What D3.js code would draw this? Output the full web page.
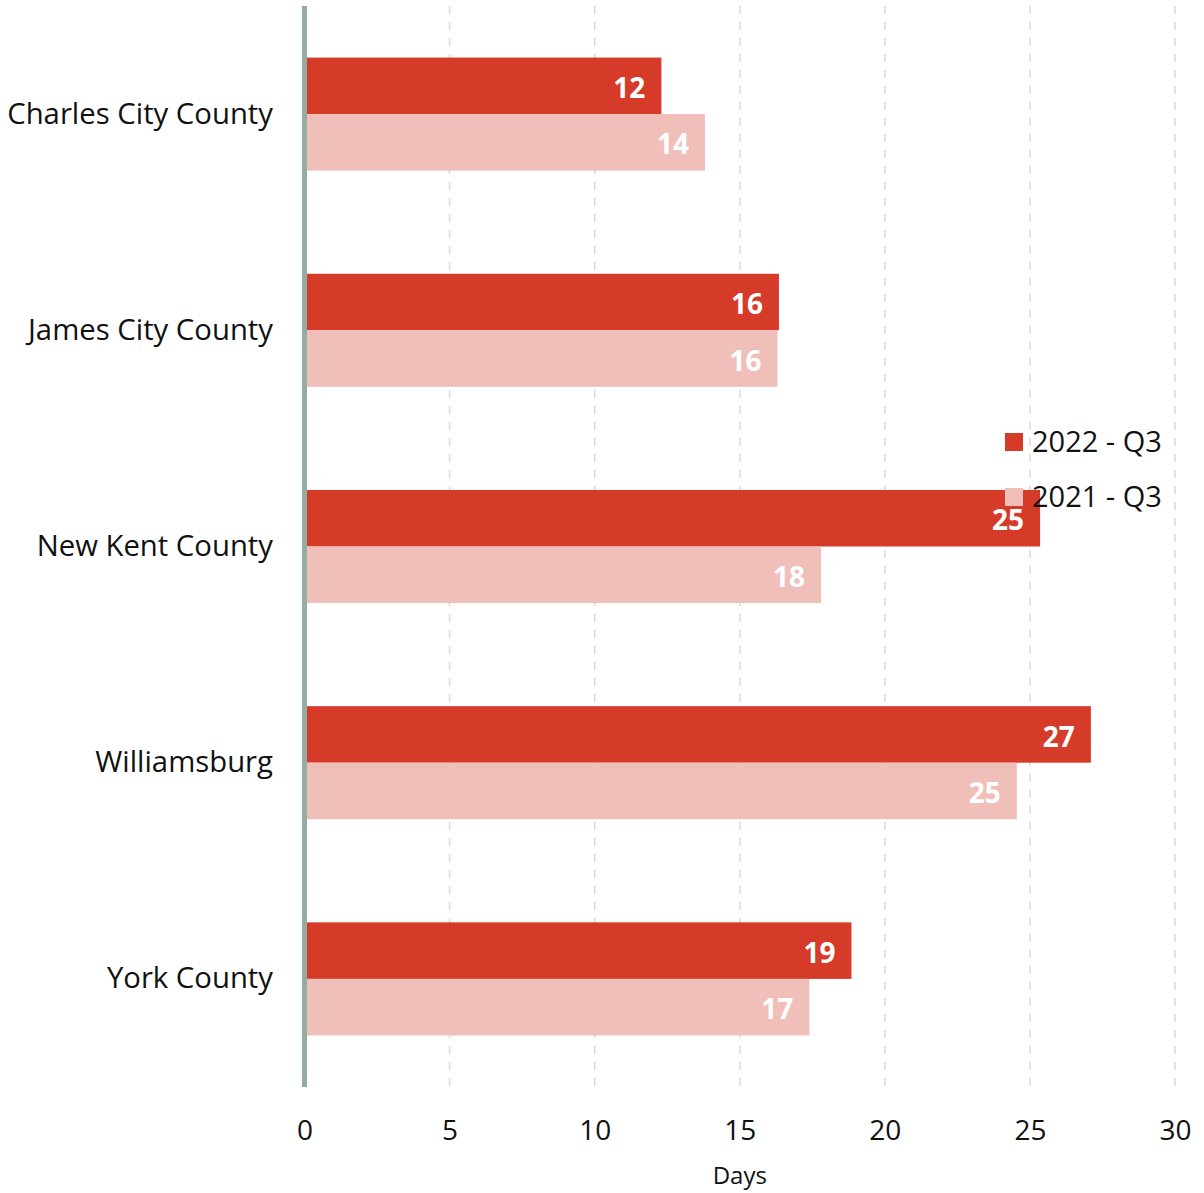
<!DOCTYPE html>
<html>
<head>
<meta charset="utf-8">
<script src="https://cdn.jsdelivr.net/npm/d3@7"></script>
<style>
  body { margin: 0; background: #fff; }
  svg text { font-family: "Open Sans", sans-serif; }
</style>
</head>
<body>
<svg id="chart" width="1204" height="1193"></svg>
<script>
var counties = ["Charles City County", "James City County", "New Kent County", "Williamsburg", "York County"];
var series = ["2022 - Q3", "2021 - Q3"];
var days2022 = [12.3, 16.35, 25.35, 27.1, 18.85];
var days2021 = [13.8, 16.3, 17.8, 24.55, 17.4];
var xTicks = [0, 5, 10, 15, 20, 25, 30];
var colors = ["#d63a29", "#f0bfb9"];

var svg = d3.select("#chart");

var x = d3.scaleLinear().domain([0, 30]).range([304.5, 1175]);
var y = d3.scaleBand().domain(counties).range([6, 1087]).paddingInner(0.477).paddingOuter(0.2385);
var ySub = d3.scaleBand().domain(series).range([0, y.bandwidth()]);

var rows = counties.map(function(c, i) {
  return { county: c, values: [days2022[i], days2021[i]] };
});

// dashed grid
svg.append("g")
  .selectAll("line")
  .data(xTicks.filter(function(t) { return t > 0; }))
  .join("line")
    .attr("x1", function(d) { return x(d); })
    .attr("x2", function(d) { return x(d); })
    .attr("y1", 6)
    .attr("y2", 1087)
    .attr("stroke", "#d9d9d9")
    .attr("stroke-width", 1.5)
    .attr("stroke-dasharray", "8,8");

// bars
var group = svg.append("g")
  .selectAll("g")
  .data(rows)
  .join("g")
    .attr("transform", function(d) { return "translate(0," + y(d.county) + ")"; });

group.selectAll("rect")
  .data(function(d) { return d.values.map(function(v, i) { return { key: series[i], v: v, i: i }; }); })
  .join("rect")
    .attr("x", x(0))
    .attr("y", function(d) { return ySub(d.key); })
    .attr("width", function(d) { return x(d.v) - x(0); })
    .attr("height", ySub.bandwidth())
    .attr("fill", function(d) { return colors[d.i]; });

group.selectAll("text.val")
  .data(function(d) { return d.values.map(function(v, i) { return { key: series[i], v: v }; }); })
  .join("text")
    .attr("class", "val")
    .attr("x", function(d) { return x(d.v) - 16; })
    .attr("y", function(d) { return ySub(d.key) + ySub.bandwidth() / 2 + 2; })
    .attr("dy", "0.36em")
    .attr("text-anchor", "end")
    .attr("fill", "#fff")
    .attr("font-weight", 700)
    .attr("font-size", 28)
    .text(function(d) { return Math.round(d.v); });

// category labels
svg.append("g")
  .selectAll("text")
  .data(counties)
  .join("text")
    .attr("x", 273)
    .attr("y", function(d) { return y(d) + y.bandwidth() / 2 - 1; })
    .attr("dy", "0.36em")
    .attr("text-anchor", "end")
    .attr("font-size", 29.3)
    .attr("fill", "#111")
    .text(function(d) { return d; });

// y axis line
svg.append("line")
  .attr("x1", x(0)).attr("x2", x(0))
  .attr("y1", 6).attr("y2", 1087)
  .attr("stroke", "#95ada0")
  .attr("stroke-width", 5);

// x axis
var xAxis = svg.append("g")
  .attr("transform", "translate(0,1087)")
  .call(d3.axisBottom(x).tickValues(xTicks).tickSize(0).tickPadding(33));
xAxis.select(".domain").remove();
xAxis.selectAll("text")
  .attr("font-family", "'Open Sans', sans-serif")
  .attr("font-size", 28)
  .attr("fill", "#111");

svg.append("text")
  .attr("x", x(15))
  .attr("y", 1184)
  .attr("text-anchor", "middle")
  .attr("font-size", 24)
  .attr("fill", "#111")
  .text("Days");

// legend
var legend = svg.append("g")
  .selectAll("g")
  .data(series)
  .join("g")
    .attr("transform", function(d, i) { return "translate(1005," + (442 + i * 55) + ")"; });
legend.append("rect")
  .attr("x", 0).attr("y", -9)
  .attr("width", 18).attr("height", 18)
  .attr("fill", function(d, i) { return colors[i]; });
legend.append("text")
  .attr("x", 27)
  .attr("dy", "0.36em")
  .attr("font-size", 29)
  .attr("fill", "#111")
  .text(function(d) { return d; });
</script>
</body>
</html>
